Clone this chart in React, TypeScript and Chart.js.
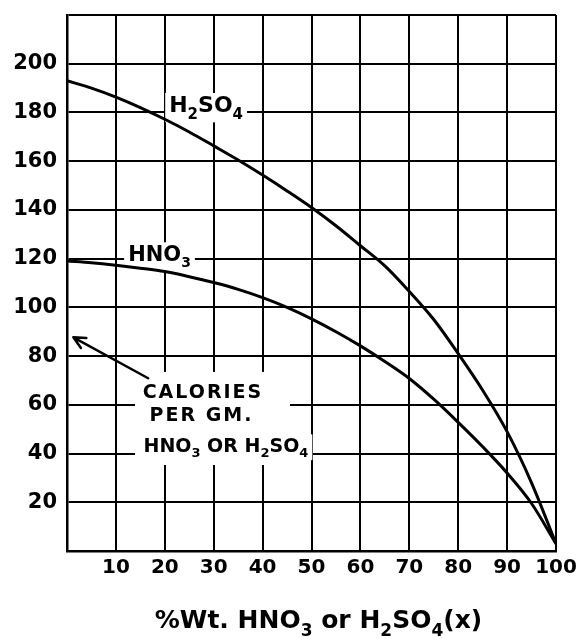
import React, { useEffect, useRef } from "react";
import { Chart, registerables } from "chart.js";

Chart.register(...registerables);

// ---- data ----
const percentWeight = [0, 5, 10, 15, 20, 25, 30, 35, 40, 45, 50, 55, 60, 65, 70, 75, 80, 85, 90, 95, 100];
const h2so4Calories = [193, 190, 186.3, 182, 177.2, 172, 166.3, 160.5, 154.3, 147.8, 141, 133.5, 125.3, 117, 106.5, 95, 81, 66, 49, 28, 3];
const hno3Calories = [119, 118.3, 117.3, 116.1, 114.7, 112.6, 110.2, 107.4, 104, 100, 95.3, 90, 84.2, 77.8, 70.8, 62.3, 52.8, 42.8, 32, 19.5, 3];
const xTickLabels = ["10", "20", "30", "40", "50", "60", "70", "80", "90", "100"];
const yTickLabels = ["20", "40", "60", "80", "100", "120", "140", "160", "180", "200"];

const FAMILY = '"DejaVu Sans", "Liberation Sans", sans-serif';

type Seg = [string, boolean];

function setFont(ctx: CanvasRenderingContext2D, size: number, sub: boolean, spacing: number) {
  const s = sub ? Math.round(size * 0.68) : size;
  ctx.font = `bold ${s}px ${FAMILY}`;
  (ctx as any).letterSpacing = `${spacing}px`;
}

function measureRich(ctx: CanvasRenderingContext2D, segs: Seg[], size: number, spacing: number) {
  let w = 0;
  for (const [t, sub] of segs) {
    setFont(ctx, size, sub, spacing);
    w += ctx.measureText(t).width;
  }
  return w;
}

function drawRich(
  ctx: CanvasRenderingContext2D,
  segs: Seg[],
  x: number,
  y: number,
  size: number,
  align: "left" | "center",
  spacing: number
) {
  const w = measureRich(ctx, segs, size, spacing);
  let cx = align === "center" ? x - w / 2 : x;
  ctx.textAlign = "left";
  ctx.textBaseline = "alphabetic";
  ctx.fillStyle = "#000";
  for (const [t, sub] of segs) {
    setFont(ctx, size, sub, spacing);
    ctx.fillText(t, cx, sub ? y + size * 0.3 : y);
    cx += ctx.measureText(t).width;
  }
  (ctx as any).letterSpacing = "0px";
}

type Note = { segs: Seg[]; x: number; y: number; size: number; align: "left" | "center"; spacing: number };

const notes: Note[] = [
  { segs: [["H", false], ["2", true], ["SO", false], ["4", true]], x: 20.9, y: 180, size: 22, align: "left", spacing: 0 },
  { segs: [["HNO", false], ["3", true]], x: 12.5, y: 119, size: 21, align: "left", spacing: 0 },
  { segs: [["CALORIES", false]], x: 27.8, y: 62.7, size: 19, align: "center", spacing: 2 },
  { segs: [["PER GM.", false]], x: 27.5, y: 53.5, size: 19, align: "center", spacing: 2 },
  {
    segs: [["HNO", false], ["3", true], [" OR H", false], ["2", true], ["SO", false], ["4", true]],
    x: 32.5,
    y: 40.8,
    size: 19,
    align: "center",
    spacing: 0,
  },
];

const blankRegion = { x0: 13.9, x1: 45.6, y0: 35.3, y1: 73.5 };
const arrowTip = { x: 1.3, y: 87.7 };
const arrowTail = { x: 16.6, y: 70.9 };

const titleSegs: Seg[] = [
  ["%Wt. HNO", false],
  ["3", true],
  [" or H", false],
  ["2", true],
  ["SO", false],
  ["4", true],
  ["(x)", false],
];

const annotationPlugin = {
  id: "annotations",
  beforeDatasetsDraw(chart: any) {
    const ctx: CanvasRenderingContext2D = chart.ctx;
    const xs = chart.scales.x;
    const ys = chart.scales.y;
    ctx.save();
    ctx.fillStyle = "#fff";
    const bx0 = xs.getPixelForValue(blankRegion.x0);
    const bx1 = xs.getPixelForValue(blankRegion.x1);
    const by0 = ys.getPixelForValue(blankRegion.y1);
    const by1 = ys.getPixelForValue(blankRegion.y0);
    ctx.fillRect(bx0, by0, bx1 - bx0, by1 - by0);
    for (const n of notes) {
      const w = measureRich(ctx, n.segs, n.size, n.spacing);
      const px = xs.getPixelForValue(n.x);
      const py = ys.getPixelForValue(n.y);
      const left = n.align === "center" ? px - w / 2 : px;
      ctx.fillStyle = "#fff";
      ctx.fillRect(left - 4, py - n.size * 0.75 - 3, w + 8, n.size * 0.75 + n.size * 0.45 + 3);
    }
    (ctx as any).letterSpacing = "0px";
    ctx.restore();
  },
  afterDatasetsDraw(chart: any) {
    const ctx: CanvasRenderingContext2D = chart.ctx;
    const xs = chart.scales.x;
    const ys = chart.scales.y;
    ctx.save();
    for (const n of notes) {
      drawRich(ctx, n.segs, xs.getPixelForValue(n.x), ys.getPixelForValue(n.y), n.size, n.align, n.spacing);
    }
    const tx = xs.getPixelForValue(arrowTip.x);
    const ty = ys.getPixelForValue(arrowTip.y);
    const sx = xs.getPixelForValue(arrowTail.x);
    const sy = ys.getPixelForValue(arrowTail.y);
    ctx.strokeStyle = "#000";
    ctx.lineWidth = 2.5;
    ctx.lineCap = "round";
    ctx.beginPath();
    ctx.moveTo(sx, sy);
    ctx.lineTo(tx, ty);
    const ang = Math.atan2(ty - sy, tx - sx);
    const len = 13;
    for (const d of [0.45, -0.45]) {
      ctx.moveTo(tx, ty);
      ctx.lineTo(tx - len * Math.cos(ang + d), ty - len * Math.sin(ang + d));
    }
    ctx.stroke();
    const area = chart.chartArea;
    drawRich(ctx, titleSegs, (area.left + area.right) / 2 + 7, 628, 25, "center", 0);
    ctx.restore();
  },
};

export default function App() {
  const ref = useRef<HTMLCanvasElement>(null);

  useEffect(() => {
    document.body.style.margin = "0";
    const canvas = ref.current;
    if (!canvas) return;
    const tickFontX = { family: FAMILY, size: 20, weight: "bold" as const };
    const tickFontY = { family: FAMILY, size: 21, weight: "bold" as const };
    const chart = new Chart(canvas, {
      type: "line",
      data: {
        datasets: [
          {
            label: "H2SO4",
            data: percentWeight.map((x, i) => ({ x, y: h2so4Calories[i] })),
            borderColor: "#000",
            borderWidth: 3,
            pointRadius: 0,
            fill: false,
            cubicInterpolationMode: "monotone",
          },
          {
            label: "HNO3",
            data: percentWeight.map((x, i) => ({ x, y: hno3Calories[i] })),
            borderColor: "#000",
            borderWidth: 3,
            pointRadius: 0,
            fill: false,
            cubicInterpolationMode: "monotone",
          },
        ],
      },
      options: {
        animation: false,
        responsive: false,
        devicePixelRatio: 1,
        layout: { padding: { left: 0, top: 15, right: 24, bottom: 0 } },
        plugins: { legend: { display: false }, tooltip: { enabled: false } },
        scales: {
          x: {
            type: "linear",
            min: 0,
            max: 100,
            ticks: {
              stepSize: 10,
              autoSkip: false,
              maxRotation: 0,
              color: "#000",
              padding: 5,
              font: tickFontX,
              callback: (v: any) => (xTickLabels.includes(String(v)) ? String(v) : ""),
            },
            grid: { color: "#000", lineWidth: 2, drawTicks: false },
            border: { color: "#000", width: 2.5 },
            afterFit: (s: any) => {
              s.height = 87;
              s.paddingLeft = 0;
              s.paddingRight = 0;
            },
          },
          y: {
            type: "linear",
            min: 0,
            max: 220,
            ticks: {
              stepSize: 20,
              autoSkip: false,
              color: "#000",
              padding: 10,
              font: tickFontY,
              callback: (v: any) => (yTickLabels.includes(String(v)) ? String(v) : ""),
            },
            grid: { color: "#000", lineWidth: 2, drawTicks: false },
            border: { color: "#000", width: 2.5 },
            afterFit: (s: any) => {
              s.width = 67;
              s.paddingTop = 0;
              s.paddingBottom = 0;
            },
          },
        },
      },
      plugins: [annotationPlugin],
    });
    return () => chart.destroy();
  }, []);

  return (
    <div style={{ position: "absolute", left: 0, top: 0, width: 580, height: 638, background: "#fff" }}>
      <canvas ref={ref} width={580} height={638} style={{ display: "block" }} />
    </div>
  );
}
